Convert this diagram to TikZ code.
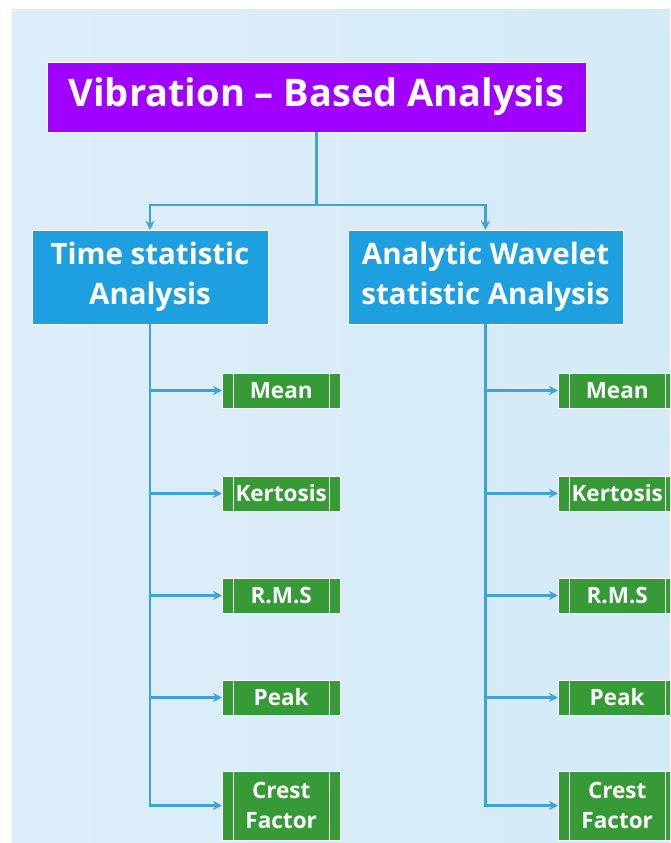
\documentclass[tikz,border=0pt]{standalone}
\usepackage{fontspec}
\setmainfont{Open Sans}
\usepackage{tikz}
\usetikzlibrary{arrows.meta,positioning}
\definecolor{bgc}{HTML}{DCEEF9}
\definecolor{bgd}{HTML}{D5EAF7}
\definecolor{topc}{HTML}{9F00FF}
\definecolor{midc}{HTML}{1EA0E0}
\definecolor{leafc}{HTML}{369A37}
\definecolor{linec}{HTML}{3DA3DA}
\tikzset{
  ln/.style={linec,line width=2.6pt},
  ar/.style={-{Stealth[length=9pt,width=9pt]},linec,line width=2.6pt},
  topbox/.style={fill=topc,draw=white,thin,text=white,minimum width=539pt,minimum height=70pt,font=\fontsize{38}{42}\selectfont\bfseries},
  midbox/.style={fill=midc,draw=white,thin,text=white,minimum height=94pt,inner sep=0pt,align=center,font=\fontsize{29.5}{40}\selectfont\bfseries},
  leaf/.style={fill=leafc,draw=white,thin,text=white,anchor=west,minimum width=118pt,minimum height=35pt,inner sep=0pt,align=center,font=\fontsize{22.5}{30}\selectfont\bfseries,
    path picture={
      \draw[white,line width=1.3pt] ([xshift=11pt]path picture bounding box.north west)--([xshift=11pt]path picture bounding box.south west);
      \draw[white,line width=1.3pt] ([xshift=-11pt]path picture bounding box.north east)--([xshift=-11pt]path picture bounding box.south east);}}
}
\begin{document}
\begin{tikzpicture}[x=1pt,y=-1pt]
\useasboundingbox (0,0) rectangle (670,843);
\clip (0,0) rectangle (670,843);
\shade[left color=bgc,right color=bgd] (12,10) rectangle (670,843);
\node[topbox] (top) at (316.5,97) {Vibration -- Based Analysis};
\node[midbox,minimum width=236pt] (tsa) at (150,277) {Time statistic\\Analysis};
\node[midbox,minimum width=275pt] (awa) at (485.5,277) {Analytic Wavelet\\statistic Analysis};
\coordinate (split) at (316.5,205);
\draw[ln] (top) -- (split);
\draw[ar] (split) -| (tsa);
\draw[ar] (split) -| (awa);
% feature leaves
\foreach \n/\y/\txt in {1/390.5/Mean,2/493.5/Kertosis,3/595.5/R.M.S,4/697.5/Peak}{
  \node[leaf] (t\n) at (222,\y) {\txt};
  \node[leaf] (w\n) at (558,\y) {\txt};
}
\node[leaf,minimum height=69pt] (t5) at (222,805.5) {Crest\\Factor};
\node[leaf,minimum height=69pt] (w5) at (558,805.5) {Crest\\Factor};
\foreach \n in {1,...,5}{
  \draw[ar] (tsa.south) |- (t\n.west);
  \draw[ar] (awa.south) |- (w\n.west);
}
\end{tikzpicture}
\end{document}
